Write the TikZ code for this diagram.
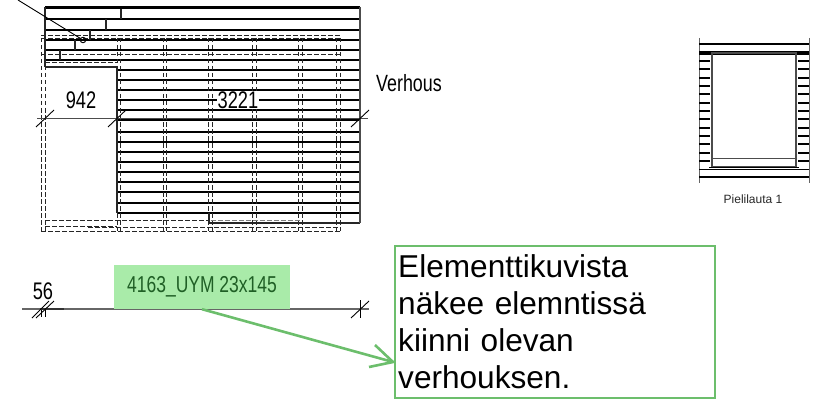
\documentclass[tikz,border=0pt]{standalone}
\usepackage{fontspec}
\setmainfont{Liberation Sans}
\newfontfamily\narrowf[FakeStretch=0.76]{Liberation Sans}
\definecolor{gline}{HTML}{6CBE6C}
\definecolor{gfill}{HTML}{A9EBA9}
\definecolor{gtext}{HTML}{1F5F25}
\tikzset{
 wall/.style={line width=1.9pt,black},
 thin wall/.style={line width=1.1pt,black!85},
 hid/.style={line width=0.95pt,black!85,dash pattern=on 4.5pt off 2.5pt},
 slash/.style={line width=0.9pt,black},
 dimtext/.style={font=\narrowf\fontsize{24}{24}\selectfont,inner sep=0.5pt,text=black},
 callout/.style={draw=gline,line width=2.4pt,fill=white,align=left,anchor=north west,inner sep=0pt,font=\fontsize{31.6}{37}\selectfont},
}
\begin{document}
\begin{tikzpicture}[x=1pt,y=-1pt]
\useasboundingbox (0,0) rectangle (826,401);
% upper drawing: boards
\foreach \yy in {7,19,30,40,50,60}{\draw[wall] (45,\yy) -- (360,\yy);}
\draw[wall] (45,8.5) -- (360,8.5);
\foreach \yy in {70,80,90,100,110,120,132,142,152,162,172,182,192,203,213}{\draw[wall] (117,\yy) -- (360,\yy);}
\draw[thin wall] (209,223) -- (360,223);
\draw[thin wall] (45,67) -- (117,67);
\draw[thin wall] (45,7) -- (45,67);
\draw[thin wall] (117,67) -- (117,213);
\draw[line width=1.6pt,black!70] (360,7) -- (360,223);
\foreach \xx/\ya/\yb in {121/9/19,106/19/30,90/30/40,75/40/50,60/50/60,209/213/223}{\draw[thin wall] (\xx,\ya) -- (\xx,\yb);}
% hidden lines
\foreach \xx in {41,45,117,120,163,166,208,212,252,256,298,302,336,340}{\draw[hid] (\xx,38) -- (\xx,231);}
\foreach \yy in {35,38}{\draw[hid] (41,\yy) -- (340,\yy);}
\draw[hid] (41,54) -- (340,54);
\draw[hid] (45,62) -- (117,62);
\draw[hid] (45,220) -- (209,220);
\draw[line width=1.7pt,black!50,dash pattern=on 4.5pt off 2.5pt] (211,220.5) -- (300,220.5);
\draw[hid] (45,226) -- (117,226);
\draw[hid] (88,227) -- (340,227);
\draw[hid] (41,231) -- (340,231);
% dimension line
\coordinate (d1) at (37,118);
\coordinate (d2) at (368,118);
\draw[line width=1pt,black!70] (d1) -- (d2);
\foreach \xx in {45,117,360}{\draw[slash] (\xx-9,127) -- (\xx+9,110);}
\node[dimtext,fill=white] (n942) at (81,100) {942};
\node[dimtext,fill=white] (n3221) at (238,100) {3221};
\node[font=\narrowf\fontsize{23.5}{24}\selectfont,inner sep=0pt] (verh) at (409,83) {Verhous};
% leader
\coordinate (lead) at (18,0);
\node[circle,draw,line width=0.9pt,inner sep=0pt,minimum size=5.5pt] (ring) at (83,40) {};
\draw[line width=0.9pt] (lead) -- (ring);
% window elevation
\foreach \xx in {699,809}{\draw[line width=1pt,black!60] (\xx,38) -- (\xx,183);}
\draw[wall] (699,44) -- (809,44);
\draw[line width=3.4pt] (699,53) -- (809,53);
\foreach \yy in {61,69,78,86,94,103,111,119,128,136,144,153,161}{
 \draw[line width=2.8pt] (699,\yy) -- (710,\yy);
 \draw[line width=2.8pt] (798,\yy) -- (809,\yy);}
\draw[line width=1.6pt,black!70] (712,53) rectangle (796,167);
\draw[line width=0.9pt,black!70] (712,158) -- (796,158);
\draw[line width=1pt] (709,167) -- (799,167);
\draw[wall] (699,169.5) -- (809,169.5);
\draw[wall] (699,177) -- (809,177);
\node[font=\fontsize{12}{12}\selectfont,text=black!85,inner sep=0pt] (piel) at (753,199.5) {Pielilauta 1};
% lower line
\coordinate (b1) at (22,309);
\coordinate (b2) at (369,309);
\draw[line width=1.4pt,black!60] (b1) -- (b2);
\draw[line width=1.4pt,black!80] (40,309) -- (64,309);
\draw[slash] (32,318) -- (49,301);
\draw[slash] (36,318) -- (54,301);
\draw[slash] (41,309.5) -- (41,317);
\draw[slash] (45,309.5) -- (45,317);
\draw[slash] (351,318) -- (369,301);
\draw[slash] (360,300) -- (360,318);
\node[dimtext] (n56) at (43,291) {56};
\node[fill=gfill,text=gtext,minimum width=176pt,minimum height=44pt,inner sep=0pt,font=\narrowf\fontsize{23}{23}\selectfont] (lab) at (202,287) {4163\_UYM 23x145};
% callout
\node[callout,minimum width=319.5pt,minimum height=152pt,text width=319.5pt] (box) at (394,245) {\hspace*{3pt}Elementtikuvista\\\hspace*{3pt}näkee elemntissä\\\hspace*{3pt}kiinni olevan\\\hspace*{3pt}verhouksen.};
\coordinate (tip) at (393,362);
\draw[gline,line width=2.6pt] (lab.south) -- (tip);
\draw[gline,line width=2.6pt] (375,345) -- (tip) -- (369,367);
\end{tikzpicture}
\end{document}
